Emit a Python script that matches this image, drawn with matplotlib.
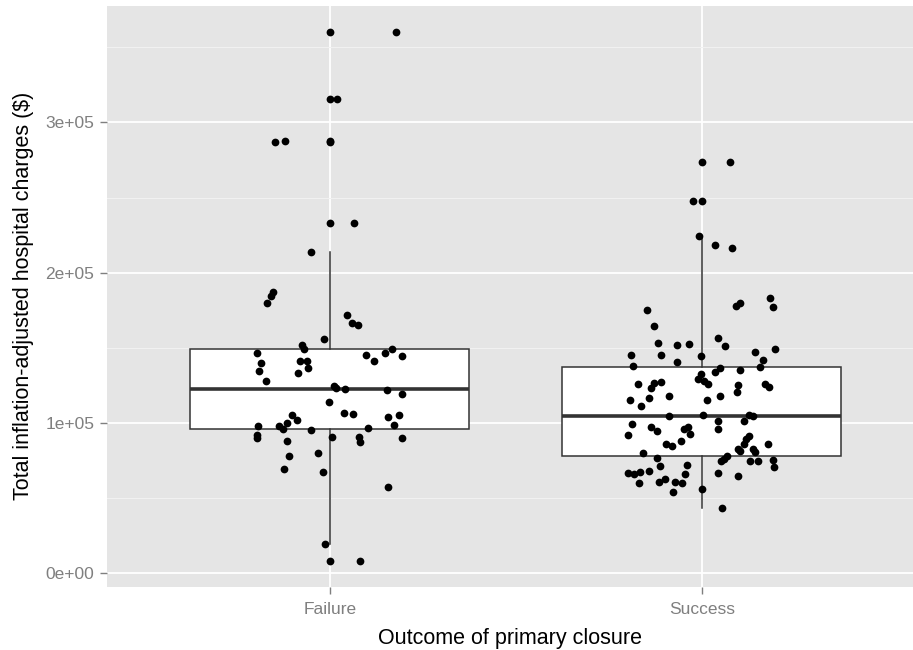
import matplotlib.pyplot as plt
import numpy as np

plt.rcParams['font.family'] = ['Liberation Sans', 'DejaVu Sans']

categories = ["Failure", "Success"]

# charges, in thousands of dollars
failure_charges = [
    359.9, 315.7, 286.8, 287.7, 232.8, 213.9, 187.2, 184.3, 180.1, 172.1,
    166.5, 164.8, 155.7, 151.9, 149.2, 146.3, 139.9, 134.5, 128.1, 141.2,
    141.2, 136.5, 133.2, 145.0, 146.3, 149.2, 144.5, 141.2, 124.3, 123.0,
    122.5, 122.1, 119.2, 113.7, 106.8, 105.9, 103.9, 105.5, 98.8, 96.3,
    105.0, 101.9, 99.9, 98.1, 95.7, 97.9, 91.9, 89.7, 95.0, 90.8,
    90.3, 87.5, 89.7, 88.1, 79.7, 77.9, 69.2, 67.0, 57.0, 19.5,
    7.9,
]
# horizontal jitter of each point (category units)
failure_jitter = [
    0.178, 0.018, -0.147, -0.120, 0.066, -0.052, -0.153, -0.159, -0.168, 0.046,
    0.059, 0.077, -0.016, -0.075, -0.070, -0.196, -0.185, -0.190, -0.172, -0.080,
    -0.062, -0.059, -0.086, 0.096, 0.148, 0.168, 0.195, 0.119, 0.012, 0.017,
    0.041, 0.153, 0.193, -0.001, 0.037, 0.061, 0.156, 0.187, 0.172, 0.102,
    -0.101, -0.089, -0.116, -0.136, -0.126, -0.192, -0.195, -0.195, -0.051, 0.007,
    0.079, 0.082, 0.195, -0.116, -0.031, -0.109, -0.123, -0.019, 0.157, -0.012,
    0.082,
]

success_charges = [
    273.5, 247.9, 224.1, 218.5, 216.1, 183.2, 177.2, 179.7, 177.9, 175.0,
    164.5, 156.8, 151.0, 153.2, 151.9, 152.5, 149.0, 147.2, 145.0, 145.0,
    144.3, 140.8, 137.5, 141.5, 137.2, 136.5, 133.9, 135.2, 132.8, 129.5,
    127.7, 125.9, 125.9, 126.8, 127.0, 123.5, 125.0, 120.3, 126.1, 124.1,
    118.1, 116.5, 115.5, 111.0, 117.9, 115.5, 104.5, 105.0, 101.5, 95.9,
    105.0, 104.8, 101.0, 99.0, 91.9, 97.2, 94.8, 97.5, 95.7, 92.5,
    91.2, 89.2, 85.9, 86.1, 84.3, 87.7, 85.7, 82.5, 81.5, 82.3,
    80.5, 79.9, 76.5, 77.7, 76.1, 74.3, 74.8, 74.8, 75.0, 70.5,
    71.5, 71.9, 65.9, 66.5, 66.1, 67.5, 68.1, 66.3, 64.3, 62.8,
    60.5, 59.7, 60.5, 59.9, 53.7, 55.7, 43.2,
]
success_jitter = [
    0.076, -0.024, -0.007, 0.036, 0.082, 0.184, 0.192, 0.104, 0.093, -0.146,
    -0.128, 0.043, 0.062, -0.118, -0.066, -0.034, 0.198, 0.142, -0.190, -0.109,
    -0.001, -0.066, -0.184, 0.166, 0.157, 0.048, 0.036, 0.102, -0.002, -0.011,
    0.007, 0.016, -0.172, -0.128, -0.110, -0.137, 0.097, 0.094, 0.171, 0.180,
    -0.089, -0.143, -0.192, -0.163, 0.050, 0.013, -0.087, 0.003, 0.045, 0.044,
    0.126, 0.139, 0.114, -0.188, -0.198, -0.137, -0.121, -0.038, -0.047, -0.031,
    0.126, 0.119, 0.114, -0.096, -0.081, -0.056, 0.178, 0.097, 0.104, 0.139,
    0.143, -0.157, -0.119, 0.068, 0.059, 0.052, 0.130, 0.151, 0.192, 0.195,
    -0.112, -0.040, -0.044, -0.198, -0.182, -0.166, -0.143, 0.044, 0.098, -0.098,
    -0.116, -0.170, -0.071, -0.053, -0.076, 0.001, 0.055,
]

y_ticks = [0, 100000, 200000, 300000]
y_tick_labels = ["0e+00", "1e+05", "2e+05", "3e+05"]

charges = [np.array(failure_charges) * 1000, np.array(success_charges) * 1000]
jitters = [failure_jitter, success_jitter]
positions = np.arange(len(categories))

fig = plt.figure(figsize=(9.13, 6.5), dpi=100)
ax = fig.add_axes([106.7 / 913, 1 - 586.7 / 650, 1 - 106.7 / 913, (586.7 - 6) / 650])
ax.set_facecolor('#E5E5E5')

# grid, ggplot2 style
ax.set_axisbelow(True)
ax.set_yticks(y_ticks)
ax.set_yticks([50000, 150000, 250000, 350000], minor=True)
ax.grid(which='major', color='white', linewidth=1.3)
ax.grid(which='minor', axis='y', color='#F2F2F2', linewidth=0.7)

ax.boxplot(
    charges, positions=positions, widths=0.75, patch_artist=True,
    showcaps=False,
    boxprops=dict(facecolor='white', edgecolor='#333333', linewidth=1.1),
    medianprops=dict(color='#333333', linewidth=2.6),
    whiskerprops=dict(color='#333333', linewidth=1.1),
    flierprops=dict(marker='o', markerfacecolor='black', markeredgecolor='none', markersize=5.6),
    zorder=2,
)

for pos, vals, jit in zip(positions, charges, jitters):
    ax.scatter(pos + np.array(jit), vals, s=31, color='black', linewidths=0, zorder=3)

ax.set_xlim(-0.6, 1.568)
ax.set_ylim(-9100, 377500)
ax.set_xticks(positions)
ax.set_xticklabels(categories)
ax.set_yticklabels(y_tick_labels)

for s in ax.spines.values():
    s.set_visible(False)
ax.tick_params(which='major', colors='#7F7F7F', labelcolor='#7F7F7F', length=5, width=1,
               labelsize=12.5, pad=4)
ax.tick_params(axis='x', pad=6)
ax.tick_params(which='minor', length=0)

ax.set_xlabel("Outcome of primary closure", fontsize=15.5, labelpad=8)
ax.set_ylabel("Total inflation-adjusted hospital charges ($)", fontsize=15.5, labelpad=8)

fig.savefig("out.png", dpi=100)
